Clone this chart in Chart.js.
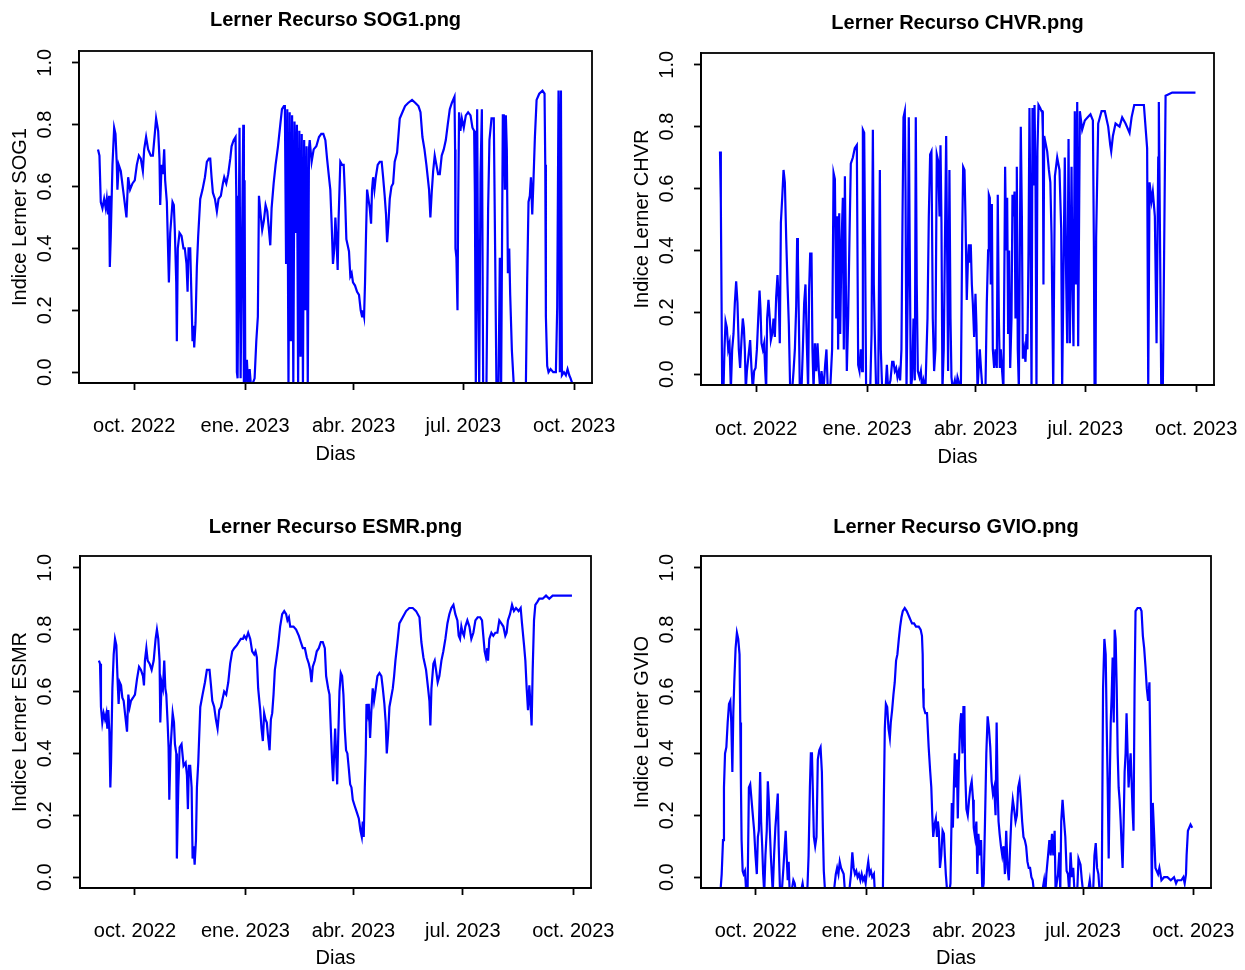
<!DOCTYPE html>
<html lang="es">
<head>
    <meta charset="UTF-8">
    <title>Lerner Recurso</title>
    <script src="https://cdn.jsdelivr.net/npm/chart.js"></script>
    <style>
        body { margin: 0; background: #fff; }
        canvas { position: absolute; }
    </style>
</head>
<body>
    <canvas id="sog1" width="622" height="485" style="left:0;top:0;width:622px;height:485px"></canvas>
    <canvas id="chvr" width="623" height="485" style="left:622px;top:0;width:623px;height:485px"></canvas>
    <canvas id="esmr" width="622" height="485" style="left:0;top:485px;width:622px;height:485px"></canvas>
    <canvas id="gvio" width="623" height="485" style="left:622px;top:485px;width:623px;height:485px"></canvas>

    <script>
        // days counted from 1 sep 2022
        const tickDays = [30, 122, 212, 303, 395];
        const tickLabels = ['oct. 2022', 'ene. 2023', 'abr. 2023', 'jul. 2023', 'oct. 2023'];
        const yTicks = [0, 0.2, 0.4, 0.6, 0.8, 1.0];

        // [day, lerner index]
        const sog1 = [[0,0.72],[1.2,0.70],[2.3,0.55],[3.7,0.53],[5.1,0.56],[6.4,0.53],[7.3,0.56],[8.4,0.51],[9.2,0.57],[9.8,0.34],[10.6,0.44],[12,0.67],[13.4,0.79],[14.5,0.77],[15.6,0.67],[16.1,0.59],[17.2,0.67],[18.9,0.65],[21.1,0.58],[23.6,0.50],[25,0.63],[26.6,0.59],[28.6,0.61],[30.5,0.62],[32.2,0.67],[33.9,0.70],[35.5,0.69],[37.2,0.65],[38.3,0.72],[39.9,0.76],[41.6,0.72],[43.8,0.70],[45.5,0.70],[47.1,0.77],[48.2,0.82],[49.9,0.78],[51,0.69],[51.6,0.54],[52.7,0.67],[53.8,0.64],[54.9,0.72],[55.7,0.62],[57.1,0.55],[57.7,0.46],[58.8,0.29],[59.9,0.45],[61.8,0.55],[62.9,0.54],[63.7,0.46],[64.9,0.29],[65.4,0.10],[66.2,0.40],[67.6,0.45],[69.3,0.44],[70.9,0.40],[72,0.40],[73.4,0.35],[74.3,0.26],[75.1,0.40],[76.5,0.40],[77.6,0.23],[78.4,0.10],[79.2,0.15],[79.8,0.08],[80.9,0.16],[82,0.34],[83.1,0.44],[84.8,0.56],[86.7,0.59],[88.7,0.63],[90.3,0.68],[92,0.69],[93.1,0.69],[94.2,0.63],[95.3,0.58],[97,0.56],[98.6,0.52],[100,0.56],[101.9,0.57],[103.6,0.61],[104.7,0.63],[106.4,0.61],[108,0.64],[109.7,0.69],[110.8,0.73],[112.5,0.75],[114.1,0.76],[114.7,0.57],[115.2,0.0],[115.8,-0.02],[117.4,0.79],[118.3,-0.02],[119.4,0.40],[120.5,0.80],[121,-0.05],[121.6,0.62],[122.2,-0.05],[123.5,0.04],[124.6,-0.05],[125.8,0.01],[127,-0.05],[129.9,-0.02],[131.3,0.10],[132.6,0.18],[133.5,0.57],[134.9,0.51],[136.2,0.46],[137.6,0.49],[139,0.54],[140.4,0.52],[141.8,0.46],[142.9,0.41],[144,0.53],[145.7,0.61],[147.3,0.67],[149.3,0.73],[151.2,0.80],[152.6,0.85],[154.2,0.86],[155,0.86],[156,0.35],[157,0.85],[158,-0.05],[159,0.84],[160,0.10],[161,0.83],[162,-0.05],[163,0.81],[164,0.45],[165,0.80],[166,-0.05],[167,0.78],[168,0.05],[169,0.77],[170,-0.05],[171,0.75],[172,0.20],[173,0.73],[174,-0.05],[175,0.72],[175.6,0.75],[177.2,0.68],[178.9,0.72],[181.1,0.73],[183.3,0.76],[185.2,0.77],[186.9,0.77],[188.6,0.75],[190,0.69],[191.6,0.63],[192.7,0.59],[193.8,0.48],[194.9,0.35],[196,0.40],[196.9,0.50],[197.7,0.44],[198.8,0.33],[199.6,0.50],[201,0.68],[202.4,0.67],[203.8,0.67],[204.9,0.57],[206,0.43],[207.1,0.41],[208.2,0.39],[209.3,0.31],[210.4,0.32],[211.5,0.29],[213.2,0.28],[214.9,0.26],[216.5,0.25],[217.9,0.20],[219,0.18],[219.8,0.20],[220.7,0.18],[221.5,0.29],[222.3,0.44],[223.2,0.59],[224.3,0.56],[225.4,0.53],[226.5,0.48],[227.3,0.59],[228.2,0.63],[229.3,0.59],[230.4,0.63],[232,0.67],[233.7,0.68],[235.3,0.68],[236.5,0.63],[237.8,0.57],[238.9,0.51],[239.8,0.42],[240.9,0.48],[242,0.56],[243.4,0.60],[244.8,0.61],[246.1,0.68],[248.1,0.71],[250.3,0.82],[252.5,0.84],[254.7,0.86],[257.2,0.87],[260.5,0.88],[263.3,0.87],[265.8,0.86],[267.5,0.84],[269.1,0.76],[270.8,0.72],[272.4,0.67],[274.6,0.59],[275.7,0.50],[276.8,0.58],[278,0.65],[279.3,0.70],[280.7,0.67],[282.1,0.64],[283.5,0.64],[285.1,0.70],[286.8,0.72],[288.5,0.75],[290.1,0.80],[291.8,0.85],[293.5,0.87],[295.7,0.89],[296.2,0.72],[296.5,0.40],[297.3,0.37],[298.2,0.20],[298.7,0.50],[299.5,0.84],[300.6,0.78],[301.8,0.82],[303.4,0.79],[305.1,0.83],[307,0.84],[309,0.83],[310.6,0.79],[312,0.78],[312.6,0.58],[313.4,-0.05],[314.5,0.85],[315.3,0.29],[316.2,-0.05],[317.3,0.64],[318.4,0.85],[319.5,-0.05],[322.2,-0.05],[323.6,0.53],[324.7,0.75],[326.4,0.82],[328.3,0.82],[329.4,0.40],[330.5,-0.05],[332.2,-0.05],[333.3,0.37],[334.4,-0.05],[335.8,0.83],[336.6,0.83],[337.5,0.59],[338.3,0.83],[339.1,0.72],[340,0.32],[341.1,0.40],[341.9,0.25],[343.3,0.07],[345,-0.05],[354.9,-0.05],[356,0.30],[357.1,0.55],[358.2,0.57],[359.1,0.63],[360.2,0.51],[361.3,0.63],[362.4,0.76],[363.8,0.88],[366,0.90],[368.7,0.91],[370.4,0.90],[371,0.67],[371.5,0.18],[372.6,0.02],[373.7,0],[375.4,0.01],[377.6,0],[379.8,0],[380.9,0.21],[382,0.91],[382.6,0.68],[383.1,0],[384,0.91],[384.8,-0.01],[386.5,0],[388.1,-0.01],[389.5,0.01],[390.9,-0.01],[392,-0.02],[393.7,-0.04]];

        const chvr = [[0,0.72],[0.7,0.55],[1.3,0.23],[1.8,-0.05],[2.9,-0.05],[3.7,0.08],[4.6,0.17],[5.7,0.15],[6.8,0.08],[7.9,0.10],[9,-0.05],[10.1,0.08],[11.2,0.13],[12.3,0.23],[13.4,0.30],[14.5,0.23],[15.6,0.08],[16.7,0.02],[17.8,0.11],[18.9,0.18],[19.8,0.15],[20.6,0.08],[21.4,-0.05],[22.3,0.01],[23.4,0.05],[25,0.11],[26.1,0.02],[27.2,-0.05],[28.3,0.01],[29.5,0.02],[30.6,0.08],[31.7,0.18],[32.8,0.27],[33.6,0.21],[34.4,0.10],[35.5,0.08],[36.6,0.10],[37.5,0.01],[38.3,-0.05],[39.1,0.18],[40.2,0.24],[41.3,0.18],[42.2,0.11],[43.3,0.13],[44.4,0.18],[45.5,0.12],[46.6,0.25],[47.7,0.32],[48.8,0.23],[49.6,0.10],[50.5,0.49],[51.6,0.57],[52.7,0.66],[53.8,0.62],[54.9,0.44],[56,0.29],[57.1,0.16],[58.2,-0.05],[59.9,-0.05],[61,0.01],[62.1,0.08],[63.2,0.22],[64,0.44],[64.6,0.38],[65.4,0.18],[66.2,-0.05],[67.6,-0.05],[68.7,0.08],[69.8,0.23],[70.9,0.29],[72,0.10],[73.1,-0.05],[73.9,0.27],[74.8,0.39],[75.9,0.39],[76.7,0.08],[77.6,-0.05],[78.7,0.10],[79.8,0.01],[80.9,0.10],[82,0.01],[83.1,-0.05],[84.2,0.01],[85.9,-0.05],[87.2,0.03],[88.3,0.08],[89.4,-0.05],[91.4,-0.05],[93,0.08],[94.2,0.65],[95.3,0.63],[96.4,0.18],[97.2,0.51],[98,0.08],[98.9,0.52],[99.7,0.13],[100.8,0.42],[101.9,0.57],[102.7,0.08],[103.6,0.64],[104.4,0.29],[105.2,0.01],[106.3,0.18],[107.4,0.44],[108.5,0.68],[110.2,0.70],[111.8,0.73],[113.5,0.74],[114.6,0.03],[115.7,0.01],[116.8,0.08],[117.9,0.01],[118.5,0.79],[119.6,0.78],[120.4,0.40],[121.2,-0.05],[124.6,-0.05],[125.7,0.13],[126.8,0.79],[127.6,0.29],[128.4,0.13],[129.5,-0.05],[131.2,-0.05],[132.6,0.66],[133.4,0.08],[134.5,-0.05],[137.3,-0.05],[138.4,0.03],[139.5,-0.05],[141.4,-0.02],[142.8,0.04],[143.9,0.04],[145,0.01],[146.1,0.02],[147.2,-0.01],[148.3,0.01],[149.4,-0.02],[150.5,0.08],[151.4,0.51],[152.2,0.83],[153.3,0.85],[153.9,0.59],[154.7,-0.05],[155.8,0.29],[156.6,0.83],[157.4,0.40],[158.3,-0.05],[159.4,-0.01],[160.5,0.18],[161.6,-0.02],[162.4,0.83],[163.2,0.29],[164.1,0.01],[165.5,-0.01],[166.6,0.01],[167.7,-0.05],[168.8,-0.02],[170.4,-0.05],[172.1,0.18],[173.2,0.51],[174.3,0.71],[175.4,0.72],[176.5,0.18],[177.6,0.01],[178.7,0.08],[179.8,0.71],[180.9,0.69],[182.1,0.51],[182.9,0.74],[183.7,0.49],[184.5,-0.05],[185.6,0.08],[186.5,0.40],[187.6,0.77],[188.4,0.40],[189.2,0.01],[190.3,0.66],[191.2,0.18],[192,-0.01],[193.1,-0.05],[194.8,-0.02],[195.9,-0.05],[197,-0.01],[199.8,-0.05],[200.9,0.45],[201.7,0.67],[202.8,0.66],[203.6,0.51],[204.7,0.24],[205.6,0.36],[206.4,0.42],[207.2,0.36],[208,0.42],[208.9,0.29],[209.7,0.23],[210.8,0.12],[211.9,0.26],[212.7,0.16],[213.6,-0.05],[214.7,0.03],[215.5,0.08],[216.6,0.01],[217.7,-0.05],[220.2,-0.05],[221.3,0.23],[222.4,0.40],[223,0.58],[223.8,0.57],[224.6,0.29],[225.5,0.55],[226.3,0.08],[227.4,0.02],[228.5,0.08],[229.6,0.02],[230.4,0.58],[231.3,0.18],[232.1,0.02],[232.9,0.08],[234,0.01],[235.1,-0.05],[236,0.40],[236.5,0.67],[237.4,0.40],[238.2,0.57],[239,0.13],[239.8,0.40],[240.7,0.02],[241.8,0.18],[242.6,0.58],[243.4,0.51],[244.3,0.59],[245.1,0.18],[245.9,0.36],[246.2,0.67],[247,0.08],[247.9,-0.05],[248.7,0.40],[249.5,0.80],[250.4,0.51],[251.2,0.05],[252.3,0.08],[253.4,0.04],[254.2,0.13],[255,0.08],[255.9,0.40],[256.7,0.86],[257.5,0.51],[258.4,-0.05],[259.2,0.86],[260,0.61],[260.9,0.87],[261.7,0.63],[262.5,-0.05],[263.3,0.72],[264.2,0.87],[265.6,0.86],[266.7,0.85],[267.3,0.85],[267.8,0.78],[268.3,0.29],[268.9,0.77],[269.5,0.77],[271.4,0.72],[272.8,0.66],[274,0.62],[275,0.45],[276.4,-0.05],[277.8,0.64],[279.7,0.70],[281.6,0.66],[283,0.47],[283.8,-0.05],[284.7,0.25],[286,0.70],[287.2,0.29],[288,0.10],[289.1,0.76],[290.2,0.10],[291.6,0.67],[292.4,0.29],[293.2,0.09],[294.3,0.85],[295.2,0.29],[296.3,0.88],[297.1,0.09],[298.5,0.85],[300.4,0.79],[302.6,0.82],[305,0.83],[307.3,0.84],[309.3,0.82],[310.1,0.43],[310.7,-0.05],[311.5,-0.05],[312,0.44],[313.7,0.81],[316.5,0.85],[319.2,0.85],[322,0.80],[323.7,0.74],[324.5,0.72],[325.9,0.77],[328.1,0.81],[331.4,0.80],[333.6,0.83],[336.4,0.81],[339.7,0.78],[341.4,0.83],[343.6,0.87],[347.4,0.87],[351.6,0.87],[354.3,0.73],[355.2,-0.05],[356.3,0.62],[357.9,0.56],[359,0.59],[360.7,0.51],[362.1,0.10],[363.5,0.70],[364,0.88],[365.1,0.38],[366,-0.05],[367.3,-0.05],[368.4,0.40],[369.6,0.90],[375.1,0.91],[380.6,0.91],[384.8,0.91],[388.9,0.91],[394.4,0.91]];

        const esmr = [[0,0.70],[0.9,0.69],[1.7,0.55],[2.8,0.50],[3.9,0.53],[5.1,0.51],[6.2,0.53],[7,0.48],[7.8,0.54],[8.7,0.47],[9.5,0.29],[10.1,0.37],[11.2,0.61],[12.3,0.72],[13.4,0.77],[14.5,0.75],[15.6,0.63],[16.4,0.56],[17.3,0.63],[18.4,0.62],[19.5,0.58],[20.6,0.57],[21.7,0.53],[23.4,0.47],[24.5,0.59],[25.6,0.55],[26.7,0.57],[28.4,0.58],[30,0.59],[31.7,0.64],[33.4,0.68],[35,0.67],[36.7,0.65],[37.5,0.62],[38.3,0.70],[39.5,0.74],[40.6,0.70],[42.2,0.69],[43.9,0.67],[45.6,0.70],[47.2,0.77],[48.3,0.80],[49.4,0.77],[50.5,0.70],[51.1,0.50],[52.2,0.63],[53.3,0.61],[54.4,0.70],[55.3,0.61],[56.1,0.59],[57.2,0.50],[58,0.42],[58.6,0.25],[59.7,0.42],[61.4,0.53],[62.5,0.50],[63.3,0.43],[64.4,0.40],[64.9,0.06],[66.1,0.29],[67.2,0.42],[68.8,0.43],[70.5,0.36],[72.2,0.37],[73.3,0.33],[74.1,0.22],[74.9,0.36],[76,0.36],[77.2,0.29],[78,0.06],[78.8,0.10],[79.7,0.04],[80.8,0.12],[81.6,0.29],[82.7,0.37],[84.4,0.55],[86.3,0.59],[88.3,0.63],[89.9,0.67],[92.1,0.67],[93.3,0.62],[94.4,0.57],[96,0.55],[97.4,0.51],[98.8,0.48],[100.2,0.54],[101.6,0.55],[103.2,0.58],[104.3,0.60],[106,0.59],[107.7,0.63],[109.3,0.69],[111,0.73],[112.7,0.74],[114.9,0.75],[116.5,0.76],[118.2,0.77],[119.9,0.77],[121,0.78],[122.6,0.77],[124.3,0.79],[126,0.77],[127.6,0.73],[129.3,0.72],[130.4,0.73],[131.5,0.71],[132.6,0.61],[134.3,0.54],[135.4,0.48],[136.5,0.44],[137.6,0.53],[138.7,0.51],[139.8,0.50],[140.7,0.46],[142.1,0.41],[143.2,0.51],[144.3,0.53],[145.4,0.59],[146.5,0.67],[147.6,0.70],[149.3,0.75],[150.9,0.81],[152.6,0.85],[154.3,0.86],[155.9,0.85],[157,0.83],[158.2,0.84],[159.3,0.81],[160.6,0.81],[162,0.81],[164.2,0.80],[166.5,0.78],[168.1,0.76],[169.8,0.74],[171.5,0.74],[173.1,0.71],[174.8,0.69],[175.9,0.67],[177,0.63],[178.1,0.68],[179.8,0.70],[181.4,0.73],[183.1,0.74],[184.8,0.76],[186.4,0.76],[188.1,0.74],[189.2,0.65],[190.9,0.61],[192,0.59],[193.1,0.48],[194.2,0.37],[195,0.31],[195.9,0.40],[196.7,0.48],[197.5,0.40],[198.4,0.30],[199.2,0.44],[200.3,0.60],[201.4,0.66],[202.5,0.65],[203.6,0.59],[204.7,0.48],[205.8,0.41],[206.9,0.40],[208.1,0.35],[209.2,0.30],[210.3,0.29],[211.4,0.25],[213,0.23],[214.7,0.21],[216.4,0.19],[217.8,0.15],[218.9,0.13],[219.7,0.18],[220.5,0.13],[221.4,0.29],[222.2,0.40],[222.8,0.56],[223.9,0.53],[224.7,0.56],[225.8,0.45],[226.9,0.54],[228,0.61],[229.1,0.57],[230.2,0.60],[231.9,0.65],[233.6,0.66],[235.2,0.65],[236.4,0.61],[237.7,0.56],[238.8,0.50],[239.7,0.40],[240.8,0.46],[241.9,0.55],[243.3,0.58],[244.7,0.61],[245.8,0.65],[246.9,0.70],[248.6,0.76],[250.2,0.82],[253,0.84],[255.8,0.86],[258.5,0.87],[261.3,0.87],[264.1,0.86],[266.9,0.84],[268.5,0.76],[270.2,0.71],[272.4,0.67],[274.1,0.61],[275.2,0.57],[276,0.49],[276.9,0.61],[278.5,0.69],[279.6,0.70],[280.7,0.67],[282.1,0.63],[283.5,0.65],[285.2,0.70],[286.8,0.73],[288.5,0.77],[290.2,0.82],[291.8,0.85],[293.5,0.87],[295.2,0.88],[296.8,0.85],[298.5,0.83],[299.6,0.78],[300.7,0.77],[301.8,0.81],[302.9,0.79],[304,0.78],[305.1,0.81],[306.8,0.83],[308.5,0.81],[310.1,0.77],[311.8,0.79],[313.5,0.83],[315.4,0.84],[317.4,0.84],[319,0.83],[320.1,0.78],[321.2,0.73],[322.3,0.71],[323.4,0.74],[324,0.70],[325.1,0.77],[326.8,0.79],[328.4,0.78],[330.1,0.79],[331.8,0.79],[333.4,0.83],[335.1,0.82],[336.8,0.81],[338.4,0.78],[339.5,0.79],[340.6,0.83],[342.3,0.85],[344,0.88],[345.6,0.86],[347.3,0.87],[349.5,0.86],[351.2,0.87],[352.3,0.82],[354,0.75],[355.1,0.70],[356.2,0.61],[357.3,0.54],[358.4,0.62],[359.5,0.55],[360.3,0.49],[361.2,0.67],[362.3,0.83],[363.4,0.88],[365.1,0.89],[366.7,0.90],[369.5,0.90],[372.3,0.91],[375,0.90],[377.8,0.91],[380.6,0.91],[383.4,0.91],[386.1,0.91],[388.9,0.91],[391.7,0.91],[393.9,0.91]];

        const gvio = [[0.4,-0.05],[1.5,0.01],[2.6,0.12],[3.4,0.29],[4.3,0.40],[5.4,0.42],[6.5,0.50],[7.6,0.56],[8.7,0.57],[9.5,0.50],[10.4,0.34],[11.2,0.53],[12,0.63],[13.1,0.74],[14.2,0.79],[15.3,0.77],[16.4,0.72],[17,0.50],[17.6,0.29],[18.1,0.12],[19,0.02],[19.8,0.01],[20.9,0.02],[22,-0.05],[23.1,-0.05],[24.2,0.29],[25.3,0.30],[26.4,0.25],[27.5,0.20],[28.6,0.15],[29.7,0.07],[30.8,0.01],[31.7,0.13],[32.5,0.15],[33.6,0.34],[34.4,0.18],[35.3,0.10],[36.1,0.01],[37,-0.05],[38,0.07],[39.1,0.15],[40,0.31],[40.8,0.25],[41.6,0.16],[42.5,0.07],[43.3,0.01],[44.1,-0.05],[45.2,0.07],[46.3,0.16],[47.4,0.22],[48.3,0.27],[49.1,0.10],[50.2,-0.05],[51.6,-0.05],[53,0.03],[54.1,0.10],[54.9,0.15],[55.7,0.07],[56.6,-0.01],[57.4,0.05],[58.2,-0.05],[59.6,-0.05],[61.3,-0.01],[62.4,-0.02],[63.5,-0.05],[67.4,-0.05],[69,-0.02],[70.1,-0.05],[72.9,-0.05],[74,0.07],[75.1,0.29],[75.9,0.40],[76.8,0.40],[77.6,0.27],[78.4,0.13],[79.5,0.10],[80.6,0.13],[81.7,0.38],[82.9,0.41],[84,0.42],[85.1,0.34],[85.9,0.16],[86.7,0.02],[87.8,-0.05],[95,-0.05],[96.7,0.01],[97.8,0.03],[98.9,0.01],[100,0.05],[101.1,0.03],[102.2,0.02],[103.3,0.01],[104.4,-0.05],[107.8,-0.05],[109.4,0.01],[110.5,0.08],[111.6,0.03],[112.7,0.01],[113.8,0.02],[114.9,0],[116,0.01],[117.2,-0.01],[118.3,0.01],[119.4,-0.01],[120.5,0.0],[121.6,-0.02],[122.7,0.02],[123.8,0.05],[124.9,0.01],[126,0.02],[127.1,0],[128.5,0.01],[129.3,-0.05],[136,-0.05],[136.8,0.25],[137.6,0.48],[138.5,0.56],[139.6,0.55],[140.7,0.48],[141.8,0.45],[142.6,0.50],[143.7,0.54],[144.8,0.59],[145.9,0.63],[147,0.70],[148.1,0.72],[149.3,0.77],[150.4,0.81],[151.5,0.84],[152.6,0.86],[154.2,0.87],[155.9,0.86],[157,0.85],[158.1,0.84],[159.2,0.83],[160.3,0.82],[162,0.82],[163.6,0.81],[165.9,0.81],[167.5,0.80],[168.6,0.78],[169.2,0.72],[169.5,0.61],[170,0.55],[171.4,0.53],[172.8,0.53],[174.2,0.42],[175.5,0.34],[176.4,0.29],[177.2,0.20],[178,0.13],[179.1,0.17],[180.2,0.19],[181.1,0.13],[181.9,0.18],[182.7,0.15],[183.6,0.03],[184.7,0.07],[185.8,0.15],[186.9,0.14],[187.7,0.07],[188.5,0.01],[189.7,-0.05],[191.3,-0.05],[192.4,-0.02],[193.5,0.24],[194.4,0.16],[195.2,0.29],[196,0.40],[196.9,0.29],[197.7,0.38],[198.5,0.19],[199.3,0.35],[200.4,0.49],[201.3,0.53],[202.4,0.40],[203.2,0.55],[204,0.55],[204.6,0.35],[205.7,0.22],[206.8,0.20],[207.9,0.25],[209,0.29],[210.1,0.31],[211.2,0.25],[211.8,0.16],[212.9,0.13],[214,0.18],[214.8,0.01],[215.7,0.14],[216.8,0.07],[217.9,0.12],[219,-0.05],[220.1,-0.02],[221.2,0.18],[222.3,0.40],[223.4,0.52],[224.5,0.48],[225.6,0.42],[226.7,0.31],[227.8,0.27],[228.9,0.29],[230,0.20],[230.9,0.50],[231.7,0.29],[232.5,0.18],[233.4,0.14],[234.5,0.10],[235.6,0.07],[236.7,0.10],[237.8,0.01],[238.9,0.15],[240,0.03],[241.1,-0.01],[242.2,0.10],[243.3,0.20],[244.4,0.25],[245.5,0.22],[246.7,0.18],[247.8,0.20],[248.9,0.29],[250,0.31],[251.1,0.25],[252.2,0.18],[253.3,0.13],[254.4,0.12],[255.5,0.10],[256.6,0.05],[257.7,0.03],[258.8,0.03],[259.9,0],[261,-0.01],[262.1,-0.05],[268.8,-0.05],[270.5,-0.01],[271.6,-0.05],[272.4,0.01],[273.8,0.07],[274.9,0.12],[276,0.07],[277.1,0.14],[278.2,0.07],[279.3,0.15],[280.1,-0.05],[281,-0.02],[282.1,0.01],[283.2,0.08],[284,-0.05],[284.8,0.18],[285.9,0.25],[287,0.19],[288.2,0.13],[289.3,0.02],[290.4,0.01],[291.5,-0.05],[292.6,0.08],[293.7,0],[294.8,0.03],[295.9,-0.05],[298.1,-0.05],[299.2,0.06],[300.9,0.04],[302,-0.01],[303.1,-0.05],[307,-0.05],[308.6,-0.01],[309.7,-0.05],[311.4,-0.05],[312.5,0.07],[313.6,0.11],[314.7,0.03],[315.8,0.01],[316.9,-0.05],[318.6,-0.05],[319.7,0.61],[320.8,0.77],[321.9,0.72],[322.7,0.50],[323.6,0.29],[324.4,0.06],[325.2,0.29],[326.1,0.50],[326.9,0.59],[327.7,0.71],[328.6,0.50],[329.4,0.80],[330.2,0.77],[331.1,0.61],[331.9,0.40],[332.7,0.29],[333.5,0.25],[334.4,0.18],[335.2,0.10],[336,0.03],[336.9,0.18],[337.7,0.34],[338.5,0.40],[339.3,0.53],[340.2,0.40],[341,0.29],[341.8,0.35],[342.7,0.40],[343.5,0.31],[344.3,0.22],[345.1,0.15],[346,0.61],[346.8,0.86],[348.5,0.87],[350.7,0.87],[351.8,0.86],[352.9,0.78],[354,0.74],[355.1,0.68],[356.2,0.61],[357.3,0.57],[358.4,0.63],[359.5,0.29],[360.4,-0.05],[361.2,0.24],[362.3,0.14],[363.4,0.03],[364.5,0.02],[365.6,0.01],[366.7,0.03],[368.4,-0.01],[370.6,0],[373.4,0],[376.2,-0.01],[378.9,0],[380.6,-0.02],[381.7,-0.01],[383.3,-0.01],[385,-0.01],[386.7,0],[387.8,-0.02],[388.9,0.01],[389.4,0.07],[390.5,0.15],[391.6,0.16],[392.7,0.17],[394.1,0.16]];

        Chart.defaults.font.family = '"Liberation Sans", Arial, sans-serif';
        Chart.defaults.font.size = 20;
        Chart.defaults.color = '#000';

        // black frame round the plot region, like R's box()
        const frame = {
            id: 'frame',
            afterDraw(chart) {
                const { ctx, chartArea: a } = chart;
                ctx.save();
                ctx.strokeStyle = '#000';
                ctx.lineWidth = 1.8;
                ctx.strokeRect(a.left, a.top, a.right - a.left, a.bottom - a.top);
                ctx.restore();
            }
        };

        const axisLine = { display: true, color: '#000', width: 1.8 };
        const tickMarks = { display: true, drawOnChartArea: false, drawTicks: true, tickLength: 7, color: '#000', tickWidth: 1.8 };

        // L holds the plot box and text positions inside each canvas
        function lernerChart(id, title, yTitle, points, L) {
            return new Chart(document.getElementById(id), {
                type: 'line',
                data: {
                    datasets: [{
                        data: points.map(p => ({ x: p[0], y: p[1] })),
                        borderColor: '#0000ff',
                        borderWidth: 2.2,
                        pointRadius: 0,
                        tension: 0,
                        fill: false,
                        clip: 0
                    }]
                },
                options: {
                    responsive: false,
                    animation: false,
                    events: [],
                    layout: { padding: { left: 0, top: 0, right: L.W - L.r, bottom: 0 } },
                    plugins: {
                        legend: { display: false },
                        tooltip: { enabled: false },
                        title: {
                            display: true,
                            text: title,
                            fullSize: false,
                            color: '#000',
                            font: { size: 20, weight: 'bold' },
                            padding: { top: L.titleY - 12, bottom: L.t - L.titleY - 12 }
                        }
                    },
                    scales: {
                        x: {
                            type: 'linear',
                            bounds: 'data',
                            min: -15.76,
                            max: 409.76,
                            afterFit: s => { s.height = L.H - L.b; s.paddingLeft = 0; s.paddingRight = 0; },
                            afterBuildTicks: s => { s.ticks = tickDays.map(v => ({ value: v })); },
                            ticks: {
                                autoSkip: false,
                                maxRotation: 0,
                                padding: L.tickY - L.b - 7 - 12,
                                callback: (v, i) => tickLabels[i]
                            },
                            grid: tickMarks,
                            border: axisLine,
                            title: { display: true, text: 'Dias', padding: { top: 0, bottom: L.H - L.xTitleY - 12 } }
                        },
                        y: {
                            bounds: 'data',
                            min: -0.035,
                            max: 1.038,
                            afterFit: s => { s.width = L.l; s.paddingTop = 0; s.paddingBottom = 0; },
                            afterBuildTicks: s => { s.ticks = yTicks.map(v => ({ value: v })); },
                            ticks: {
                                autoSkip: false,
                                minRotation: 90,
                                maxRotation: 90,
                                crossAlign: 'center',
                                padding: L.l - 7 - 14 - L.yTickX,
                                callback: v => v.toFixed(1)
                            },
                            grid: tickMarks,
                            border: axisLine,
                            title: { display: true, text: yTitle, padding: { top: L.yTitleX - 12, bottom: 0 } }
                        }
                    }
                },
                plugins: [frame]
            });
        }

        lernerChart('sog1', 'Lerner Recurso SOG1.png', 'Indice Lerner SOG1', sog1,
            { W: 622, H: 485, l: 79, t: 51, r: 592, b: 383, titleY: 20, tickY: 426, xTitleY: 454, yTitleX: 20, yTickX: 45 });
        lernerChart('chvr', 'Lerner Recurso CHVR.png', 'Indice Lerner CHVR', chvr,
            { W: 623, H: 485, l: 79, t: 53, r: 592, b: 385, titleY: 23, tickY: 429, xTitleY: 457, yTitleX: 20, yTickX: 45 });
        lernerChart('esmr', 'Lerner Recurso ESMR.png', 'Indice Lerner ESMR', esmr,
            { W: 622, H: 485, l: 80, t: 71, r: 591, b: 403, titleY: 42, tickY: 446, xTitleY: 473, yTitleX: 20, yTickX: 45 });
        lernerChart('gvio', 'Lerner Recurso GVIO.png', 'Indice Lerner GVIO', gvio,
            { W: 623, H: 485, l: 79, t: 71, r: 589, b: 403, titleY: 42, tickY: 446, xTitleY: 473, yTitleX: 20, yTickX: 45 });
    </script>
</body>
</html>
